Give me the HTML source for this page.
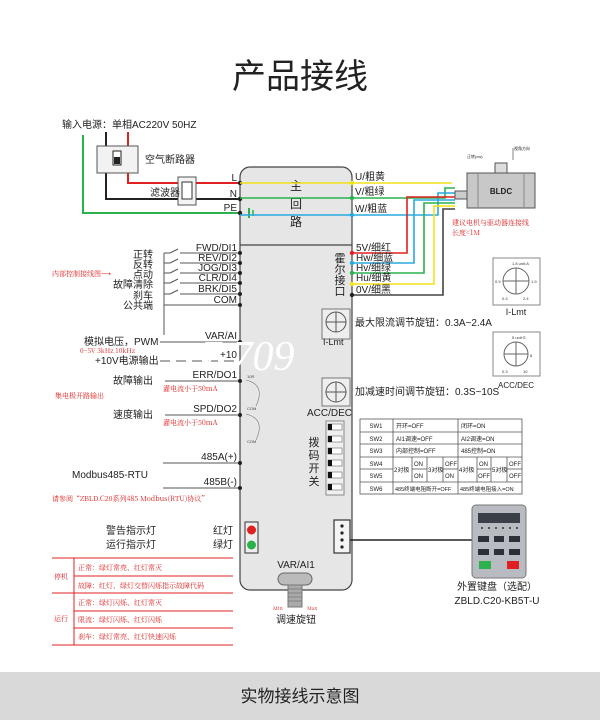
<!DOCTYPE html>
<html><head><meta charset="utf-8"><style>
html,body{margin:0;padding:0;background:#fff;}
svg{display:block;font-family:"Liberation Sans","Noto Sans CJK SC",sans-serif;}
.r{fill:#e02020;font-family:"Noto Serif CJK SC","Liberation Serif",serif;}
</style></head><body>
<svg width="600" height="720" viewBox="0 0 600 720">
<text x="300" y="88" font-size="34" text-anchor="middle" fill="#222" font-family="Noto Sans CJK SC,sans-serif">产品接线</text>

<!-- main box -->
<rect x="240" y="167" width="112" height="423" rx="10" fill="#e6e6e6" stroke="#444" stroke-width="1.2"/>
<line x1="240" y1="245" x2="352" y2="245" stroke="#444" stroke-width="1.2"/>
<text font-size="12" fill="#222" text-anchor="middle"><tspan x="296" y="190">主</tspan><tspan x="296" y="208">回</tspan><tspan x="296" y="226">路</tspan></text>
<text font-size="11" fill="#222" text-anchor="middle"><tspan x="340" y="262">霍</tspan><tspan x="340" y="273">尔</tspan><tspan x="340" y="284">接</tspan><tspan x="340" y="295">口</tspan></text>

<!-- power input -->
<text x="62" y="128" font-size="10" fill="#222">输入电源：单相AC220V 50HZ</text>
<polyline points="83,135 83,213 240,213" fill="none" stroke="#2bb24c" stroke-width="2"/>
<polyline points="106,132 106,199 240,199" fill="none" stroke="#222" stroke-width="2"/>
<polyline points="128,132 128,146" fill="none" stroke="#e02020" stroke-width="2"/>
<polyline points="128,173 128,183 240,183" fill="none" stroke="#e02020" stroke-width="2"/>
<rect x="97" y="146" width="41" height="27" fill="#f2f2f2" stroke="#555"/>
<rect x="113" y="151" width="8" height="14" fill="#fff" stroke="#222"/><rect x="114" y="157" width="6" height="7" fill="#222"/>
<text x="145" y="163" font-size="10" fill="#222">空气断路器</text>
<rect x="178" y="177" width="18" height="28" fill="#f4f4f4" stroke="#555"/><rect x="182" y="182" width="10" height="17" fill="#fff" stroke="#333"/>
<text x="150" y="196" font-size="10" fill="#222">滤波器</text>
<text font-size="10" fill="#222" text-anchor="end"><tspan x="237" y="181">L</tspan><tspan x="237" y="197">N</tspan><tspan x="237" y="211">PE</tspan></text>
<g fill="#222"><circle cx="240" cy="183" r="2.2"/><circle cx="240" cy="199" r="2.2"/><circle cx="240" cy="213" r="2.2"/></g>
<line x1="249" y1="208" x2="249" y2="218" stroke="#2bb24c" stroke-width="2"/><line x1="253" y1="210" x2="253" y2="216" stroke="#2bb24c" stroke-width="1.5"/>

<!-- DI -->
<g stroke="#555" stroke-width="1" fill="none">
<line x1="164" y1="253" x2="164" y2="335"/>
<line x1="164" y1="253" x2="170" y2="253"/><line x1="170" y1="253" x2="178" y2="249"/><line x1="180" y1="253" x2="240" y2="253"/>
<line x1="164" y1="263" x2="170" y2="263"/><line x1="170" y1="263" x2="178" y2="259"/><line x1="180" y1="263" x2="240" y2="263"/>
<line x1="164" y1="273" x2="170" y2="273"/><line x1="170" y1="273" x2="178" y2="269"/><line x1="180" y1="273" x2="240" y2="273"/>
<line x1="164" y1="283" x2="170" y2="283"/><line x1="170" y1="283" x2="178" y2="279"/><line x1="180" y1="283" x2="240" y2="283"/>
<line x1="164" y1="294" x2="170" y2="294"/><line x1="170" y1="294" x2="178" y2="290"/><line x1="180" y1="294" x2="240" y2="294"/>
<line x1="164" y1="305" x2="240" y2="305"/>
</g>
<text font-size="10" fill="#222" text-anchor="end"><tspan x="237" y="251">FWD/DI1</tspan><tspan x="237" y="261">REV/DI2</tspan><tspan x="237" y="271">JOG/DI3</tspan><tspan x="237" y="281">CLR/DI4</tspan><tspan x="237" y="292">BRK/DI5</tspan><tspan x="237" y="303">COM</tspan></text>
<text font-size="10" fill="#222" text-anchor="end"><tspan x="153" y="258">正转</tspan><tspan x="153" y="268">反转</tspan><tspan x="153" y="278">点动</tspan><tspan x="153" y="288">故障清除</tspan><tspan x="153" y="299">刹车</tspan><tspan x="153" y="309">公共端</tspan></text>
<text x="52" y="276" font-size="7" class="r">内部控制接线图⟶</text>
<g fill="#222"><circle cx="240" cy="253" r="2"/><circle cx="240" cy="263" r="2"/><circle cx="240" cy="273" r="2"/><circle cx="240" cy="283" r="2"/><circle cx="240" cy="294" r="2"/><circle cx="240" cy="305" r="2"/></g>

<!-- analog / outputs -->
<g stroke="#555" stroke-width="1">
<line x1="160" y1="342" x2="240" y2="342"/><line x1="160" y1="361" x2="240" y2="361" stroke-dasharray="10,6"/>
<line x1="165" y1="381" x2="240" y2="381"/><line x1="165" y1="415" x2="240" y2="415"/>
<line x1="163" y1="463" x2="240" y2="463"/><line x1="163" y1="488" x2="240" y2="488"/>
</g>
<text font-size="10" fill="#222"><tspan x="84" y="345">模拟电压，PWM</tspan><tspan x="95" y="364">+10V电源输出</tspan><tspan x="113" y="384">故障输出</tspan><tspan x="113" y="418">速度输出</tspan><tspan x="72" y="478">Modbus485-RTU</tspan></text>
<text font-size="10" fill="#222" text-anchor="end"><tspan x="237" y="339">VAR/AI</tspan><tspan x="237" y="358">+10</tspan><tspan x="237" y="378">ERR/DO1</tspan><tspan x="237" y="412">SPD/DO2</tspan><tspan x="237" y="460">485A(+)</tspan><tspan x="237" y="485">485B(-)</tspan></text>
<text x="80" y="353" font-size="6.5" class="r">0~5V  3kHz  10kHz</text>
<text x="163" y="391" font-size="7" class="r">灌电流小于50mA</text>
<text x="163" y="425" font-size="7" class="r">灌电流小于50mA</text>
<text x="55" y="398" font-size="7" class="r">集电极开路输出</text>
<text x="52" y="501" font-size="7" class="r">请参阅“ZBLD.C20系列485 Modbus(RTU)协议”</text>
<g fill="#222"><circle cx="240" cy="342" r="2"/><circle cx="240" cy="381" r="2"/><circle cx="240" cy="415" r="2"/><circle cx="240" cy="463" r="2"/><circle cx="240" cy="488" r="2"/></g>
<g stroke="#777" stroke-width="0.6" fill="none"><path d="M246 380 q20 5 10 26"/><path d="M246 414 q20 5 10 26"/></g>
<text font-size="4" fill="#444"><tspan x="247" y="378">10R</tspan><tspan x="247" y="410">COM</tspan><tspan x="247" y="443">COM</tspan></text>
<text x="200" y="370" font-size="42" font-style="italic" fill="#fff" font-family="Liberation Serif,serif">7.709</text>

<!-- motor wiring -->
<g fill="none" stroke-width="1.6">
<polyline points="240,183 452,183" stroke="#f2e21a"/>
<polyline points="240,198 445,198 445,188 455,188" stroke="#2bb24c"/>
<polyline points="240,215 438,215 438,193 455,193" stroke="#29a8e0"/>
<polyline points="352,253 407,253 407,197 455,197" stroke="#e02020"/>
<polyline points="352,263 414,263 414,200 455,200" stroke="#29a8e0"/>
<polyline points="352,273 424,273 424,203 455,203" stroke="#2bb24c"/>
<polyline points="352,284 434,284 434,206 455,206" stroke="#f2e21a"/>
<polyline points="352,295 443,295 443,209 455,209" stroke="#444"/>
</g>
<text font-size="10" fill="#222"><tspan x="355" y="180">U/粗黄</tspan><tspan x="355" y="195">V/粗绿</tspan><tspan x="355" y="212">W/粗蓝</tspan><tspan x="356" y="251">5V/细红</tspan><tspan x="356" y="261">Hw/细蓝</tspan><tspan x="356" y="271">Hv/细绿</tspan><tspan x="356" y="281">Hu/细黄</tspan><tspan x="356" y="293">0V/细黑</tspan></text>
<g><circle cx="352" cy="183" r="2.2" fill="#f2e21a"/><circle cx="352" cy="198" r="2.2" fill="#2bb24c"/><circle cx="352" cy="215" r="2.2" fill="#29a8e0"/><circle cx="352" cy="253" r="2.2" fill="#e02020"/><circle cx="352" cy="263" r="2.2" fill="#29a8e0"/><circle cx="352" cy="273" r="2.2" fill="#2bb24c"/><circle cx="352" cy="284" r="2.2" fill="#f2e21a"/><circle cx="352" cy="295" r="2.2" fill="#222"/></g>
<rect x="455" y="191" width="12" height="8" fill="#ccc" stroke="#555"/>
<rect x="467" y="173" width="68" height="35" fill="#c8c8c8" stroke="#555"/>
<line x1="478" y1="173" x2="478" y2="208" stroke="#888"/><line x1="524" y1="173" x2="524" y2="208" stroke="#888"/>
<rect x="495" y="163" width="12" height="10" fill="#ddd" stroke="#555"/>
<text x="501" y="194" font-size="8" font-weight="bold" fill="#222" text-anchor="middle">BLDC</text>
<text x="467" y="158" font-size="4" fill="#222">正转(cw)</text><text x="514" y="150" font-size="4" fill="#222">视角方向</text>
<line x1="513" y1="148" x2="513" y2="160" stroke="#333" stroke-width="0.6"/>
<text font-size="7" class="r"><tspan x="452" y="225">建议电机与驱动器连接线</tspan><tspan x="452" y="235">长度&lt;1M</tspan></text>

<!-- dials -->
<rect x="493" y="258" width="47" height="47" fill="#fff" stroke="#888"/>
<circle cx="516" cy="281" r="13" fill="none" stroke="#666"/><line x1="503" y1="281" x2="529" y2="281" stroke="#666"/><line x1="516" y1="268" x2="516" y2="294" stroke="#666"/>
<text font-size="4" fill="#333"><tspan x="512" y="265">1.8 unit:A</tspan><tspan x="495" y="283">0.9</tspan><tspan x="531" y="283">1.9</tspan><tspan x="502" y="300">0.3</tspan><tspan x="523" y="300">2.4</tspan></text>
<text x="516" y="315" font-size="9" text-anchor="middle" fill="#222">I-Lmt</text>
<rect x="493" y="332" width="47" height="44" fill="#fff" stroke="#888"/>
<circle cx="516" cy="354" r="12" fill="none" stroke="#666"/><line x1="504" y1="354" x2="528" y2="354" stroke="#666"/><line x1="516" y1="342" x2="516" y2="366" stroke="#666"/>
<text font-size="4" fill="#333"><tspan x="512" y="339">5 unit:S</tspan><tspan x="530" y="357">8</tspan><tspan x="502" y="373">0.3</tspan><tspan x="523" y="373">10</tspan></text>
<text x="516" y="388" font-size="8" text-anchor="middle" fill="#222">ACC/DEC</text>

<rect x="322" y="309" width="28" height="30" fill="#eee" stroke="#777"/>
<circle cx="336" cy="322" r="10" fill="none" stroke="#555"/><line x1="326" y1="322" x2="346" y2="322" stroke="#555"/><line x1="336" y1="312" x2="336" y2="332" stroke="#555"/>
<text x="323" y="345" font-size="9" fill="#222">I-Lmt</text>
<text x="355" y="326" font-size="10" fill="#222">最大限流调节旋钮：0.3A~2.4A</text>
<rect x="322" y="378" width="28" height="28" fill="#eee" stroke="#777"/>
<circle cx="336" cy="392" r="10" fill="none" stroke="#555"/><line x1="326" y1="392" x2="346" y2="392" stroke="#555"/><line x1="336" y1="382" x2="336" y2="402" stroke="#555"/>
<text x="307" y="416" font-size="10" fill="#222">ACC/DEC</text>
<text x="355" y="395" font-size="10" fill="#222">加减速时间调节旋钮：0.3S~10S</text>

<!-- DIP -->
<rect x="326" y="421" width="18" height="74" fill="#f0f0f0" stroke="#888"/>
<g fill="#fff" stroke="#666" stroke-width="0.6">
<rect x="328" y="424" width="14" height="6"/><rect x="328" y="436" width="14" height="6"/><rect x="328" y="448" width="14" height="6"/><rect x="328" y="460" width="14" height="6"/><rect x="328" y="472" width="14" height="6"/><rect x="328" y="484" width="14" height="6"/></g>
<g fill="#111"><rect x="328" y="424" width="4" height="6"/><rect x="328" y="436" width="4" height="6"/><rect x="328" y="448" width="4" height="6"/><rect x="328" y="460" width="4" height="6"/><rect x="328" y="472" width="4" height="6"/><rect x="328" y="484" width="4" height="6"/></g>
<text font-size="11" fill="#222" text-anchor="middle"><tspan x="314" y="446">拨</tspan><tspan x="314" y="459">码</tspan><tspan x="314" y="472">开</tspan><tspan x="314" y="485">关</tspan></text>

<!-- SW table -->
<g stroke="#555" stroke-width="0.8" fill="none">
<rect x="360" y="419" width="162" height="75"/>
<line x1="360" y1="432" x2="522" y2="432"/><line x1="360" y1="444" x2="522" y2="444"/><line x1="360" y1="457" x2="522" y2="457"/>
<line x1="360" y1="469" x2="393" y2="469"/><line x1="412" y1="469" x2="427" y2="469"/><line x1="443" y1="469" x2="458" y2="469"/><line x1="477" y1="469" x2="491" y2="469"/><line x1="507" y1="469" x2="522" y2="469"/>
<line x1="360" y1="482" x2="522" y2="482"/>
<line x1="393" y1="419" x2="393" y2="494"/><line x1="458" y1="419" x2="458" y2="494"/>
<line x1="412" y1="457" x2="412" y2="482"/><line x1="427" y1="457" x2="427" y2="482"/><line x1="443" y1="457" x2="443" y2="482"/>
<line x1="477" y1="457" x2="477" y2="482"/><line x1="491" y1="457" x2="491" y2="482"/><line x1="507" y1="457" x2="507" y2="482"/>
</g>
<g font-size="6" fill="#222">
<text x="376" y="428" text-anchor="middle">SW1</text><text x="376" y="441" text-anchor="middle">SW2</text><text x="376" y="453" text-anchor="middle">SW3</text><text x="376" y="466" text-anchor="middle">SW4</text><text x="376" y="478" text-anchor="middle">SW5</text><text x="376" y="491" text-anchor="middle">SW6</text>
<text x="396" y="428">开环=OFF</text><text x="461" y="428">闭环=ON</text>
<text x="396" y="441">AI1调速=OFF</text><text x="461" y="441">AI2调速=ON</text>
<text x="396" y="453">内部控制=OFF</text><text x="461" y="453">485控制=ON</text>
<text x="394" y="472">2对极</text><text x="414" y="466">ON</text><text x="414" y="478">ON</text><text x="428" y="472">3对极</text><text x="445" y="466">OFF</text><text x="445" y="478">ON</text>
<text x="459" y="472">4对极</text><text x="479" y="466">ON</text><text x="478" y="478">OFF</text><text x="492" y="472">5对极</text><text x="509" y="466">OFF</text><text x="509" y="478">OFF</text>
<text x="395" y="491" font-size="5.5">485终端电阻断开=OFF</text><text x="460" y="491" font-size="5.5">485终端电阻接入=ON</text>
</g>

<!-- connector & keypad -->
<rect x="334" y="520" width="16" height="33" fill="#f4f4f4" stroke="#333" stroke-width="1.2"/>
<g fill="#222"><circle cx="342" cy="526" r="1.6"/><circle cx="342" cy="533" r="1.6"/><circle cx="342" cy="540" r="1.6"/><circle cx="342" cy="547" r="1.6"/></g>
<line x1="350" y1="540" x2="473" y2="540" stroke="#222" stroke-width="1.6"/>
<rect x="472" y="505" width="54" height="73" rx="4" fill="#b8bcc2" stroke="#777"/>
<rect x="478" y="513" width="42" height="10" fill="#3a3f48"/>
<g fill="#333"><circle cx="482" cy="528" r="1"/><circle cx="489" cy="528" r="1"/><circle cx="496" cy="528" r="1"/><circle cx="503" cy="528" r="1"/><circle cx="510" cy="528" r="1"/><circle cx="517" cy="528" r="1"/></g>
<g fill="#2d3036"><rect x="478" y="536" width="11" height="6"/><rect x="494" y="536" width="10" height="6"/><rect x="509" y="536" width="11" height="6"/><rect x="478" y="549" width="11" height="6"/><rect x="494" y="549" width="10" height="6"/><rect x="509" y="549" width="11" height="6"/></g>
<rect x="479" y="561" width="12" height="8" fill="#2bb24c"/><rect x="507" y="561" width="12" height="8" fill="#e02020"/>
<text x="497" y="590" font-size="10" text-anchor="middle" fill="#222">外置键盘（选配）</text>
<text x="497" y="604" font-size="10" text-anchor="middle" fill="#222">ZBLD.C20-KB5T-U</text>

<!-- LEDs -->
<rect x="245" y="522" width="13" height="31" fill="#eee" stroke="#333"/>
<circle cx="251.5" cy="530" r="4.5" fill="#e02020"/><circle cx="251.5" cy="545" r="4.5" fill="#2bb24c"/>
<text font-size="10" fill="#222"><tspan x="106" y="534">警告指示灯</tspan><tspan x="106" y="548">运行指示灯</tspan><tspan x="213" y="534">红灯</tspan><tspan x="213" y="548">绿灯</tspan></text>

<!-- speed knob -->
<text x="296" y="568" font-size="10" text-anchor="middle" fill="#222">VAR/AI1</text>
<rect x="278" y="573" width="34" height="12" rx="6" fill="#bbb" stroke="#666"/>
<rect x="288" y="585" width="14" height="22" fill="#aaa" stroke="#777"/>
<g stroke="#666" stroke-width="0.6"><line x1="288" y1="589" x2="302" y2="589"/><line x1="288" y1="593" x2="302" y2="593"/><line x1="288" y1="597" x2="302" y2="597"/><line x1="288" y1="601" x2="302" y2="601"/></g>
<text x="273" y="610" font-size="5" class="r">Min</text><text x="307" y="610" font-size="5" class="r">Max</text>
<text x="296" y="623" font-size="10" text-anchor="middle" fill="#222">调速旋钮</text>

<!-- red status table -->
<g stroke="#e02020" stroke-width="1">
<line x1="52" y1="558" x2="233" y2="558"/><line x1="74" y1="576" x2="233" y2="576"/><line x1="52" y1="593" x2="233" y2="593"/>
<line x1="74" y1="611" x2="233" y2="611"/><line x1="74" y1="628" x2="233" y2="628"/><line x1="52" y1="645" x2="233" y2="645"/>
<line x1="74" y1="558" x2="74" y2="645"/></g>
<g font-size="7" class="r">
<text x="54" y="579">停机</text><text x="54" y="621">运行</text>
<text x="78" y="570">正常：绿灯常亮、红灯常灭</text>
<text x="78" y="588">故障：红灯、绿灯交替闪烁指示故障代码</text>
<text x="78" y="605">正常：绿灯闪烁、红灯常灭</text>
<text x="78" y="622">限流：绿灯闪烁、红灯闪烁</text>
<text x="78" y="639">刹车：绿灯常亮、红灯快速闪烁</text>
</g>

<!-- bottom band -->
<rect x="0" y="672" width="600" height="48" fill="#d9d9d9"/>
<text x="300" y="702" font-size="17" text-anchor="middle" fill="#222">实物接线示意图</text>
</svg>
</body></html>
